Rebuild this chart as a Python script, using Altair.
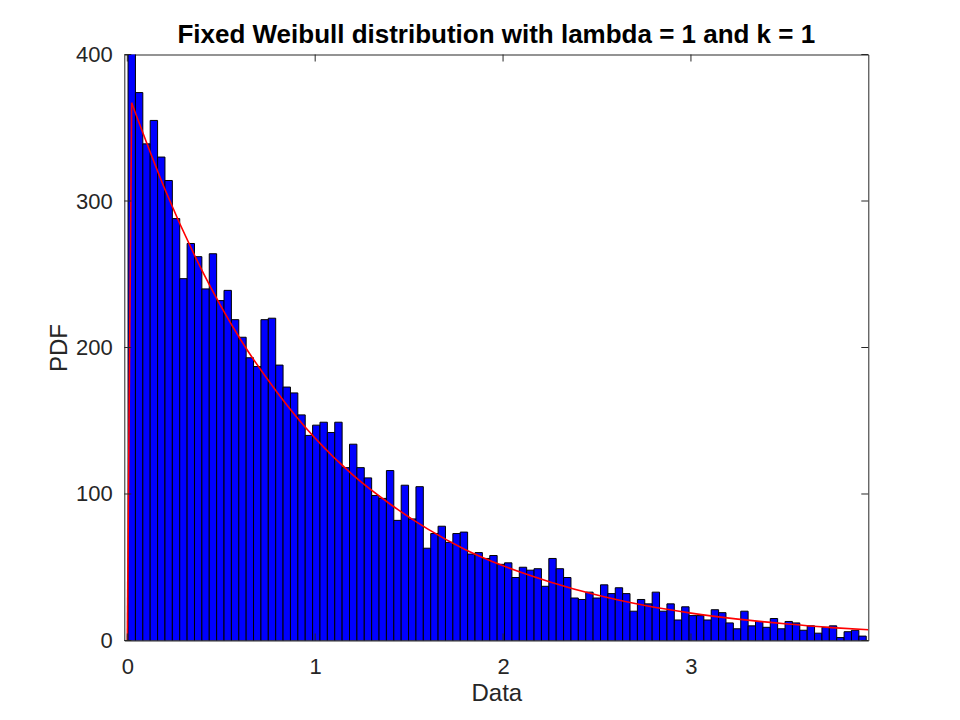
import pandas as pd
import altair as alt

# histogram of 100 bins
bin_start = 0.004
bin_width = 0.03929
counts = [405, 374, 339, 355, 330, 314, 288, 247, 271, 262,
          240, 264, 232, 239, 219, 207, 193, 187, 219, 220,
          188, 173, 169, 154, 140, 147, 149, 142, 149, 118,
          134, 118, 111, 99, 97, 116, 82, 106, 83, 105,
          63, 73, 78, 67, 73, 74, 59, 60, 56, 58,
          52, 53, 43, 50, 48, 49, 37, 56, 49, 43,
          29, 28, 33, 29, 38, 32, 36, 32, 20, 28,
          25, 33, 20, 25, 14, 23, 17, 17, 14, 21,
          19, 12, 8, 20, 10, 13, 9, 15, 8, 13,
          12, 7, 10, 5, 9, 10, 2, 6, 7, 3]

# fitted pdf curve (red)
ramp_x = [0, 0.023]
ramp_y = [0, 367]
curve_x = [0.023, 0.2, 0.4, 0.6, 0.8, 1.0, 1.2, 1.4, 1.6, 1.8, 2.0,
           2.25, 2.5, 2.75, 3.0, 3.25, 3.5, 3.75, 3.944]
curve_y = [367, 308, 252, 206, 169, 138, 113, 93, 76, 62, 51,
           40, 31, 24, 18.7, 14.6, 11.4, 8.8, 7.3]

x_ticks = [0, 1, 2, 3]
y_ticks = [0, 100, 200, 300, 400]

W, H = 744, 586
FONT = "Liberation Sans"
INK = "#262626"

bars = pd.DataFrame({
    "lo": [bin_start + i * bin_width for i in range(len(counts))],
    "hi": [bin_start + (i + 1) * bin_width for i in range(len(counts))],
    "count": counts,
})
ramp = pd.DataFrame({"x": ramp_x, "y": ramp_y})
curve = pd.DataFrame({"x": curve_x, "y": curve_y})
xt = pd.DataFrame({"t": x_ticks})
yt = pd.DataFrame({"t": y_ticks})

xscale = alt.Scale(domain=[-0.016, 3.944], nice=False, zero=False)
yscale = alt.Scale(domain=[0, 400], nice=False)

hist = alt.Chart(bars).mark_bar(
    color="#0000ff", stroke="black", strokeWidth=1, clip=True
).encode(
    x=alt.X("lo:Q", scale=xscale, title="Data",
            axis=alt.Axis(values=x_ticks, format="d")),
    x2="hi:Q",
    y=alt.Y("count:Q", scale=yscale, title="PDF",
            axis=alt.Axis(values=y_ticks, format="d")),
    y2=alt.datum(0),
)

red = dict(color="#ff0000", strokeWidth=1.6, clip=True)
line0 = alt.Chart(ramp).mark_line(**red).encode(x="x:Q", y="y:Q")
line = alt.Chart(curve).mark_line(interpolate="monotone", **red).encode(x="x:Q", y="y:Q")

# inward ticks on all four sides, as in the original box axes
tk = dict(color=INK, strokeWidth=1)
xb = alt.Chart(xt).mark_rule(**tk).encode(x="t:Q", y=alt.value(H), y2=alt.value(H - 7))
xtop = alt.Chart(xt).mark_rule(**tk).encode(x="t:Q", y=alt.value(0), y2=alt.value(7))
yl = alt.Chart(yt).mark_rule(**tk).encode(y="t:Q", x=alt.value(0), x2=alt.value(7))
yr = alt.Chart(yt).mark_rule(**tk).encode(y="t:Q", x=alt.value(W), x2=alt.value(W - 7))

chart = alt.layer(hist, line0, line, xb, xtop, yl, yr).properties(
    width=W,
    height=H,
    background="white",
    padding={"left": 116.3, "top": 46.5, "right": 80, "bottom": 68},
    autosize=alt.AutoSizeParams(type="none"),
    title=alt.Title(
        "Fixed Weibull distribution with lambda = 1 and k = 1",
        font=FONT, fontSize=26, fontWeight="bold", color="black",
        anchor="middle", offset=5, dy=9,
    ),
).configure_view(
    stroke=INK, strokeWidth=1
).configure_axis(
    domain=False, ticks=False, grid=False,
    labelFont=FONT, labelFontSize=22, labelColor=INK, labelFlush=False,
    titleFont=FONT, titleFontSize=24, titleColor=INK, titleFontWeight="normal",
).configure_axisX(
    labelPadding=16, titlePadding=4,
).configure_axisY(
    labelPadding=12, titlePadding=4,
)

chart.save("out.html", embed_options={"renderer": "svg", "actions": False})
